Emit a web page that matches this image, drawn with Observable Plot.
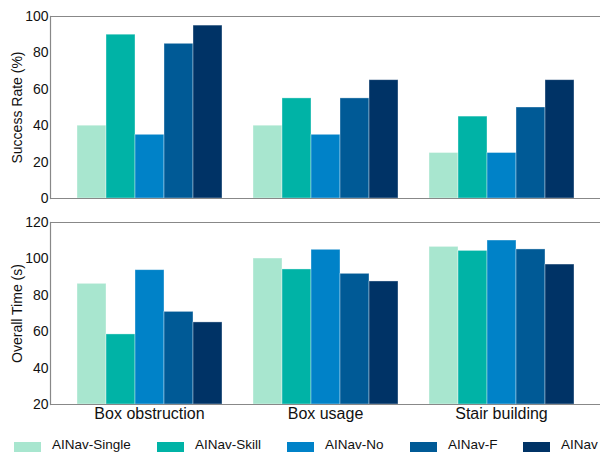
<!DOCTYPE html>
<html><head><meta charset="utf-8">
<script src="https://cdn.jsdelivr.net/npm/d3@7"></script>
<script src="https://cdn.jsdelivr.net/npm/@observablehq/plot@0.6"></script>
<style>
body{margin:0;background:#fff;font-family:"Liberation Sans",Arial,sans-serif;}
#chart{width:600px;height:452px;overflow:hidden;position:relative;background:#fff;}
svg{display:block;overflow:visible;}
.panel{position:relative;width:600px;}
.panel svg.overlay{position:absolute;left:0;top:0;z-index:2;}
.legend{display:flex;align-items:flex-start;margin-top:12px;padding-left:14px;font-size:13.5px;line-height:14px;color:#111;white-space:nowrap;}
.item{display:flex;align-items:flex-start;flex:none;}
.sw{width:27px;height:12px;margin-top:4px;margin-right:11px;flex:none;}
</style></head><body><div id="chart"></div>
<script>
const categories = ["Box obstruction", "Box usage", "Stair building"];
const methods = ["AINav-Single", "AINav-Skill", "AINav-No", "AINav-F", "AINav"];
const colors = ["#a8e6cf", "#00b3a6", "#0082c8", "#005a96", "#003366"];
const successRate = [
  [40, 90, 35, 85, 95],
  [40, 55, 35, 55, 65],
  [25, 45, 25, 50, 65]
];
const overallTime = [
  [86.3, 58.5, 93.8, 70.9, 65.1],
  [100.2, 94.2, 105.0, 91.8, 87.6],
  [106.6, 104.4, 110.1, 105.2, 96.9]
];
const successTicks = [0, 20, 40, 60, 80, 100];
const timeTicks = [20, 40, 60, 80, 100, 120];

function toRows(values) {
  const rows = [];
  categories.forEach((c, i) => methods.forEach((m, j) => rows.push({category: c, method: m, value: values[i][j]})));
  return rows;
}

const font = "'Liberation Sans', Arial, sans-serif";

function panel({values, ticks, label, height, marginTop, marginBottom, showFx}) {
  const rows = toRows(values);
  const base = ticks[0];
  const top = ticks[ticks.length - 1];
  const common = {width: 600, height, marginLeft: 50, marginRight: 0, marginTop, marginBottom};
  const barMarks = [
    Plot.barY(rows, {fx: "category", x: "method", y1: () => base, y2: "value", fill: "method",
      stroke: "#ffffff", strokeOpacity: 0.45, strokeWidth: 0.8})
  ];
  if (showFx) barMarks.push(Plot.axisFx({anchor: "bottom", tickSize: 0, tickPadding: 3, fontSize: 16, fill: "#111", label: null}));
  const bars = Plot.plot({
    ...common,
    style: {fontFamily: font, fontSize: "16px", background: "transparent", color: "#111", overflow: "visible"},
    fx: {domain: categories, paddingInner: 0.17, paddingOuter: 0.14, axis: showFx ? undefined : null, label: null},
    x: {domain: methods, padding: 0, axis: null},
    y: {domain: [base, top], axis: null},
    color: {domain: methods, range: colors},
    marks: barMarks
  });
  const axes = Plot.plot({
    ...common,
    style: {fontFamily: font, fontSize: "14px", background: "transparent", color: "#111", overflow: "visible"},
    y: {domain: [base, top]},
    marks: [
      Plot.ruleY([top], {stroke: "#888", strokeWidth: 1.2}),
      Plot.ruleY([base], {stroke: "#888", strokeWidth: 1.2}),
      Plot.frame({anchor: "left", stroke: "#888", strokeWidth: 1.2}),
      Plot.axisY({ticks, tickSize: 0, tickPadding: 2, fontSize: 14, fill: "#111",
        label, labelAnchor: "center", labelArrow: "none", labelOffset: 38})
    ]
  });
  axes.classList.add("overlay");
  const div = document.createElement("div");
  div.className = "panel";
  div.style.height = height + "px";
  div.appendChild(bars);
  div.appendChild(axes);
  return div;
}

const chart = document.getElementById("chart");
chart.appendChild(panel({values: successRate, ticks: successTicks, label: "Success Rate (%)", height: 200, marginTop: 16, marginBottom: 2, showFx: false}));
chart.appendChild(panel({values: overallTime, ticks: timeTicks, label: "Overall Time (s)", height: 226, marginTop: 22, marginBottom: 22, showFx: true}));

const legendWidths = [143, 130, 123, 113, 80];
const legend = document.createElement("div");
legend.className = "legend";
methods.forEach((m, i) => {
  const item = document.createElement("div");
  item.className = "item";
  item.style.width = legendWidths[i] + "px";
  const sw = document.createElement("div");
  sw.className = "sw";
  sw.style.background = colors[i];
  const t = document.createElement("span");
  t.textContent = m;
  item.appendChild(sw); item.appendChild(t);
  legend.appendChild(item);
});
chart.appendChild(legend);
</script></body></html>
